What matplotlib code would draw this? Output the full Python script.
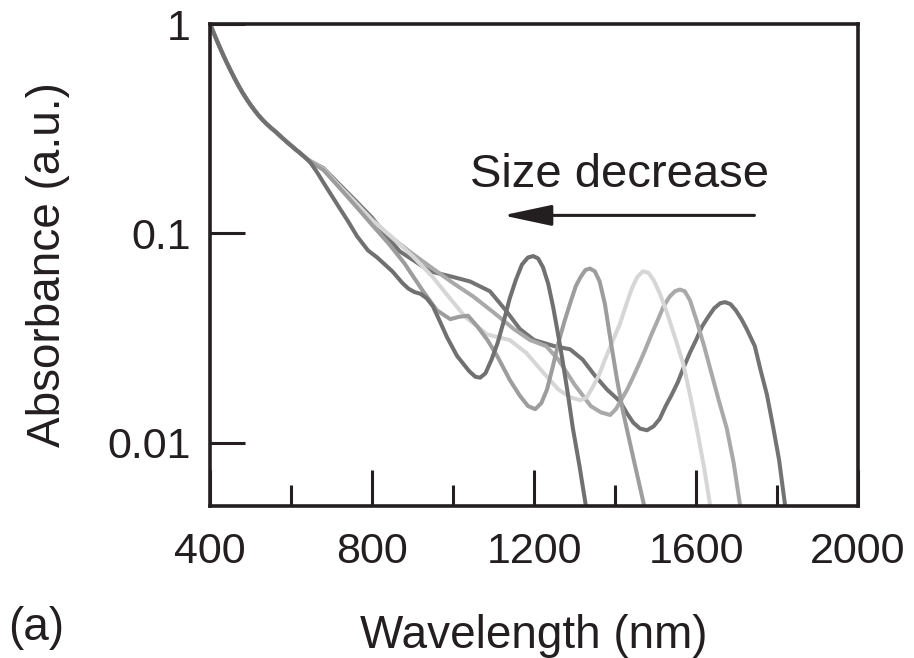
import matplotlib
matplotlib.use("Agg")
import matplotlib.pyplot as plt
from matplotlib.ticker import FixedLocator, NullLocator, FixedFormatter

plt.rcParams['font.family'] = ['Liberation Sans', 'DejaVu Sans']

# parte comun (todas las curvas coinciden hasta ~640 nm)
wl_common = [400, 410, 420, 430, 440, 450, 460, 470, 480, 490, 500, 510, 520, 530, 540, 550,
             560, 570, 580, 590, 600, 610, 620, 630, 640]
a_common = [1.0, 0.897, 0.807, 0.729, 0.662, 0.604, 0.553, 0.509, 0.471, 0.439, 0.411, 0.387,
            0.366, 0.348, 0.333, 0.320, 0.308, 0.296, 0.284, 0.273, 0.263, 0.253, 0.244, 0.235,
            0.226]

# curva 1 (pico ~1200 nm)
wl_1 = [650, 665, 680, 700, 720, 740, 763, 790, 812, 850, 875, 890, 905, 920, 935, 950, 965,
        985, 1010, 1040, 1055, 1067, 1080, 1095, 1110, 1125, 1140, 1155, 1170, 1185, 1198,
        1210, 1222, 1235, 1247, 1257, 1270, 1283, 1296, 1312, 1328]
a_1 = [0.215, 0.195, 0.175, 0.152, 0.132, 0.115, 0.097, 0.083, 0.077, 0.066, 0.058, 0.0545,
       0.0525, 0.0515, 0.049, 0.045, 0.039, 0.032, 0.026, 0.022, 0.0207, 0.0205, 0.0215, 0.025,
       0.030, 0.038, 0.049, 0.060, 0.071, 0.0768, 0.078, 0.076, 0.069, 0.0575, 0.0447, 0.035,
       0.025, 0.0174, 0.0117, 0.0078, 0.005]

# curva 2 (pico ~1340 nm)
wl_2 = [660, 680, 720, 760, 800, 840, 880, 926, 960, 993, 1015, 1037, 1060, 1085, 1109, 1140,
        1165, 1185, 1203, 1218, 1232, 1246, 1260, 1275, 1290, 1303, 1315, 1327, 1338, 1350,
        1362, 1375, 1390, 1405, 1420, 1445, 1472]
a_2 = [0.213, 0.201, 0.165, 0.135, 0.11, 0.09, 0.072, 0.053, 0.043, 0.039, 0.040, 0.0405,
       0.036, 0.031, 0.026, 0.020, 0.0168, 0.015, 0.0145, 0.0155, 0.018, 0.023, 0.030, 0.038,
       0.047, 0.056, 0.062, 0.067, 0.068, 0.066, 0.059, 0.046, 0.030, 0.020, 0.014, 0.0085,
       0.005]

# curva 3 (pico ~1470 nm)
wl_3 = [660, 680, 720, 760, 800, 852, 900, 950, 985, 1030, 1084, 1110, 1140, 1180, 1220, 1260,
        1290, 1314, 1330, 1345, 1360, 1375, 1392, 1412, 1428, 1442, 1455, 1469, 1482, 1495,
        1510, 1528, 1550, 1568, 1585, 1602, 1620, 1635]
a_3 = [0.214, 0.203, 0.168, 0.14, 0.116, 0.095, 0.078, 0.062, 0.051, 0.040, 0.033, 0.032, 0.031,
       0.027, 0.022, 0.018, 0.0165, 0.016, 0.0165, 0.0185, 0.021, 0.025, 0.030, 0.037, 0.046,
       0.055, 0.062, 0.066, 0.065, 0.060, 0.052, 0.042, 0.031, 0.024, 0.017, 0.0117, 0.0076,
       0.005]

# curva 4 (pico ~1560 nm)
wl_4 = [660, 680, 720, 760, 800, 850, 900, 950, 1000, 1050, 1100, 1150, 1190, 1230, 1260, 1300,
        1340, 1365, 1388, 1402, 1415, 1430, 1444, 1460, 1475, 1490, 1504, 1520, 1535, 1548,
        1560, 1572, 1585, 1602, 1620, 1635, 1656, 1676, 1693, 1709]
a_4 = [0.214, 0.203, 0.168, 0.14, 0.116, 0.095, 0.080, 0.068, 0.058, 0.050, 0.042, 0.035, 0.031,
       0.029, 0.025, 0.019, 0.015, 0.014, 0.0136, 0.0145, 0.016, 0.018, 0.0205, 0.024, 0.028,
       0.033, 0.038, 0.045, 0.050, 0.053, 0.054, 0.053, 0.048, 0.038, 0.029, 0.0226, 0.016,
       0.0117, 0.008, 0.005]

# curva 5 (pico ~1670 nm)
wl_5 = [660, 680, 720, 760, 800, 840, 869, 900, 943, 1000, 1042, 1091, 1130, 1165, 1200, 1250,
        1289, 1320, 1350, 1380, 1412, 1430, 1445, 1462, 1479, 1495, 1510, 1525, 1540, 1555,
        1568, 1585, 1600, 1615, 1630, 1645, 1660, 1672, 1685, 1698, 1712, 1725, 1745, 1760,
        1775, 1790, 1805, 1820]
a_5 = [0.215, 0.205, 0.171, 0.143, 0.119, 0.095, 0.082, 0.075, 0.066, 0.062, 0.059, 0.053, 0.043,
       0.035, 0.031, 0.029, 0.028, 0.025, 0.021, 0.018, 0.0158, 0.0138, 0.0125, 0.0117, 0.0115,
       0.012, 0.013, 0.015, 0.017, 0.0195, 0.0226, 0.027, 0.031, 0.036, 0.040, 0.044, 0.0465,
       0.047, 0.046, 0.043, 0.039, 0.035, 0.029, 0.022, 0.017, 0.012, 0.0083, 0.005]

curvas = [(wl_5, a_5, '#737373'), (wl_4, a_4, '#a9a9a9'), (wl_3, a_3, '#d6d6d6'),
          (wl_2, a_2, '#9d9d9d'), (wl_1, a_1, '#707070')]

fig = plt.figure(figsize=(9.14, 6.58), dpi=100)
ax = fig.add_axes([0.2298, 0.231, 0.709, 0.7325])

for wl, a, color in curvas:
    ax.plot(wl_common + wl, a_common + a, color=color, lw=2.9, solid_capstyle='round',
            solid_joinstyle='round')

ax.set_yscale('log')
ax.set_xlim(400, 2000)
ax.set_ylim(0.005, 1.0)

ax.xaxis.set_major_locator(FixedLocator([400, 800, 1200, 1600, 2000]))
ax.xaxis.set_minor_locator(FixedLocator([600, 1000, 1400, 1800]))
ax.yaxis.set_major_locator(FixedLocator([0.01, 0.1, 1]))
ax.yaxis.set_major_formatter(FixedFormatter(['0.01', '0.1', '1']))
ax.yaxis.set_minor_locator(NullLocator())

ax.tick_params(axis='both', which='both', direction='in', top=False, right=False,
               labelsize=31, colors='#231f20', width=2.2)
ax.tick_params(axis='x', which='major', length=26, pad=19)
ax.tick_params(axis='x', which='minor', length=15)
ax.tick_params(axis='y', which='major', length=25, pad=14)

for s in ax.spines.values():
    s.set_linewidth(2.6)
    s.set_color('#231f20')

ax.set_xlabel('Wavelength (nm)', fontsize=33, labelpad=30, color='#231f20')
ax.set_ylabel('Absorbance (a.u.)', fontsize=33, labelpad=27, color='#231f20')

ax.annotate('', xy=(1116, 0.122), xytext=(1751, 0.122),
            arrowprops=dict(arrowstyle='-|>,head_length=1.5,head_width=0.32',
                            color='#231f20', lw=2.2, mutation_scale=20))
ax.text(1042, 0.19, 'Size decrease', fontsize=34, va='center', ha='left', color='#231f20')

fig.text(0.009, 0.028, '(a)', fontsize=33, color='#231f20')

fig.savefig('out.png', dpi=100)
